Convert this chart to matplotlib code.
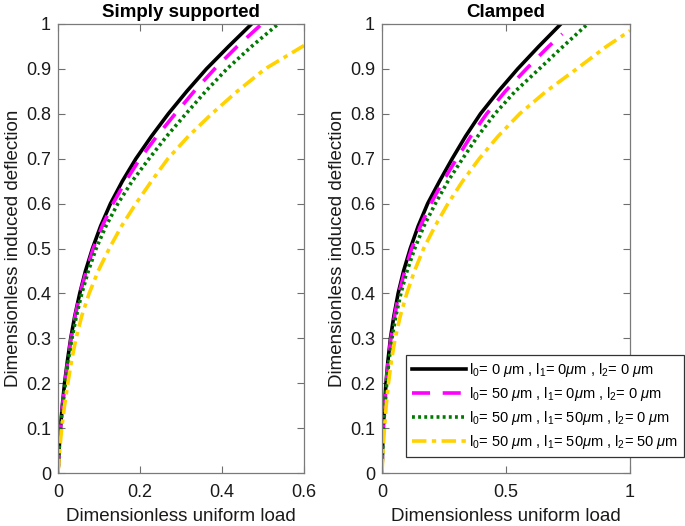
import numpy as np
import matplotlib
matplotlib.use('Agg')
import matplotlib.pyplot as plt

plt.rcParams['font.family'] = ['Liberation Sans', 'DejaVu Sans']
plt.rcParams['mathtext.fontset'] = 'custom'
plt.rcParams['mathtext.rm'] = 'Liberation Sans'
plt.rcParams['mathtext.it'] = 'Liberation Sans:italic'

# deflection values (y) shared by the curves
w = [0, 0.05, 0.1, 0.15, 0.2, 0.25, 0.3, 0.35, 0.4, 0.45, 0.5,
     0.55, 0.6, 0.65, 0.7, 0.75, 0.8, 0.85, 0.9, 0.95, 1.0]

# simply supported: load (x) for each case
ss_l0 = [0, 0.0025, 0.006, 0.0105, 0.016, 0.023, 0.031, 0.041, 0.053, 0.067, 0.084,
         0.104, 0.128, 0.157, 0.190, 0.228, 0.269, 0.314, 0.362, 0.416, 0.472]
ss_l1 = [0, 0.0025, 0.006, 0.011, 0.017, 0.024, 0.032, 0.042, 0.054, 0.069, 0.086,
         0.108, 0.134, 0.165, 0.200, 0.241, 0.286, 0.332, 0.382, 0.437, 0.497]
ss_l2 = [0, 0.0025, 0.006, 0.0115, 0.018, 0.025, 0.034, 0.045, 0.058, 0.074, 0.093,
         0.117, 0.146, 0.181, 0.222, 0.265, 0.312, 0.360, 0.412, 0.472, 0.537]
w_ss3 = [0, 0.05, 0.1, 0.15, 0.2, 0.25, 0.3, 0.35, 0.4, 0.45, 0.5,
         0.55, 0.6, 0.65, 0.7, 0.75, 0.8, 0.85, 0.9, 0.952]
ss_l3 = [0, 0.004, 0.009, 0.016, 0.024, 0.033, 0.044, 0.058, 0.076, 0.098, 0.125,
         0.155, 0.190, 0.228, 0.268, 0.318, 0.375, 0.437, 0.505, 0.6]

# clamped
cl_l0 = [0, 0.002, 0.005, 0.010, 0.016, 0.024, 0.034, 0.048, 0.065, 0.087, 0.114,
         0.146, 0.184, 0.232, 0.283, 0.337, 0.397, 0.469, 0.547, 0.632, 0.721]
w_cl1 = [0, 0.05, 0.1, 0.15, 0.2, 0.25, 0.3, 0.35, 0.4, 0.45, 0.5,
         0.55, 0.6, 0.65, 0.7, 0.75, 0.8, 0.85, 0.9, 0.95, 0.978]
cl_l1 = [0, 0.002, 0.005, 0.011, 0.017, 0.025, 0.036, 0.051, 0.068, 0.092, 0.120,
         0.155, 0.197, 0.246, 0.301, 0.358, 0.422, 0.497, 0.582, 0.672, 0.727]
cl_l2 = [0, 0.002, 0.006, 0.012, 0.019, 0.028, 0.040, 0.056, 0.076, 0.101, 0.132,
         0.169, 0.215, 0.266, 0.325, 0.386, 0.455, 0.537, 0.634, 0.73, 0.829]
w_cl3 = [0, 0.05, 0.1, 0.15, 0.2, 0.25, 0.3, 0.35, 0.4, 0.45, 0.5,
         0.55, 0.6, 0.65, 0.7, 0.75, 0.8, 0.85, 0.9, 0.95, 0.985]
cl_l3 = [0, 0.004, 0.010, 0.017, 0.026, 0.038, 0.053, 0.074, 0.100, 0.131, 0.168,
         0.214, 0.266, 0.325, 0.392, 0.468, 0.555, 0.662, 0.785, 0.905, 1.0]

labels = [r'l$_0$= 0 $\mu$m , l$_1$= 0$\mu$m , l$_2$= 0 $\mu$m',
          r'l$_0$= 50 $\mu$m , l$_1$= 0$\mu$m , l$_2$= 0 $\mu$m',
          r'l$_0$= 50 $\mu$m , l$_1$= 50$\mu$m , l$_2$= 0 $\mu$m',
          r'l$_0$= 50 $\mu$m , l$_1$= 50$\mu$m , l$_2$= 50 $\mu$m']

W, H = 685, 526
fig = plt.figure(figsize=(W / 100, H / 100), dpi=100)
ax1 = fig.add_axes([58 / W, 1 - 473 / H, 246 / W, 449 / H])
ax2 = fig.add_axes([382 / W, 1 - 473 / H, 248 / W, 449 / H])

styles = [dict(color='black', ls='-'),
          dict(color='#ff00ff', ls=(0, (5, 3.5))),
          dict(color='#007a00', ls=(0, (0.8, 0.9))),
          dict(color='#ffd200', ls=(0, (4, 1.5, 1.2, 1.5)))]

def draw(ax, data):
    for (x, y), st, lab in zip(data, styles, labels):
        ax.plot(x, y, lw=2.6, label=lab, **st)

draw(ax1, [(ss_l0, w), (ss_l1, w), (ss_l2, w), (ss_l3, w_ss3)])
draw(ax2, [(cl_l0, w), (cl_l1, w_cl1), (cl_l2, w), (cl_l3, w_cl3)])

yt = np.arange(0, 1.01, 0.1)
ylab = ['0'] + ['%.1f' % v for v in yt[1:-1]] + ['1']
for ax in (ax1, ax2):
    ax.set_ylim(0, 1)
    ax.set_yticks(yt)
    ax.set_yticklabels(ylab)
    ax.tick_params(direction='in', top=True, right=True, length=5, width=0.8,
                   color='#6e6e6e', labelsize=13, labelcolor='#1a1a1a', pad=5)
    ax.tick_params(axis='x', pad=8)
    for s in ax.spines.values():
        s.set_color('#7a7a7a')
        s.set_linewidth(0.9)
    ax.set_xlabel('Dimensionless uniform load', fontsize=13.5, color='#1a1a1a', labelpad=5)
    ax.set_ylabel('Dimensionless induced deflection', fontsize=13.5, color='#1a1a1a', labelpad=3)

ax1.set_xlim(0, 0.6)
ax1.set_xticks([0, 0.2, 0.4, 0.6])
ax1.set_xticklabels(['0', '0.2', '0.4', '0.6'])
ax2.set_xlim(0, 1)
ax2.set_xticks([0, 0.5, 1])
ax2.set_xticklabels(['0', '0.5', '1'])

ax1.set_title('Simply supported', fontsize=13.5, fontweight='bold', pad=5)
ax2.set_title('Clamped', fontsize=13.5, fontweight='bold', pad=5)

leg = ax2.legend(loc='upper left', bbox_to_anchor=(406 / W, 1 - 355 / H),
                 bbox_transform=fig.transFigure, fontsize=10.5, handlelength=3.7,
                 handletextpad=0.2, borderpad=0.4, labelspacing=0.42,
                 fancybox=False, framealpha=1, borderaxespad=0)
leg.get_frame().set_edgecolor('#333333')
leg.get_frame().set_linewidth(0.9)

fig.savefig('out.png', dpi=100)
